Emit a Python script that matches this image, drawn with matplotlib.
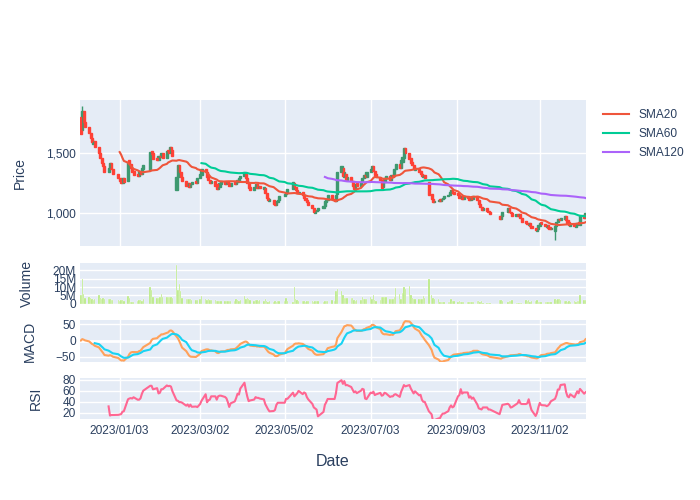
import numpy as np
import pandas as pd
import matplotlib
matplotlib.use('Agg')
import matplotlib.pyplot as plt
from matplotlib.lines import Line2D

plt.rcParams['font.family'] = ['Liberation Sans', 'DejaVu Sans']

# KRX trading days, 2022-12-06 .. 2023-12-05
krx_holidays = ['2022-12-30', '2023-01-23', '2023-01-24', '2023-03-01', '2023-05-01',
                '2023-05-05', '2023-05-29', '2023-06-06', '2023-08-15', '2023-09-28',
                '2023-09-29', '2023-10-02', '2023-10-03', '2023-10-09']
dates = pd.bdate_range('2022-12-06', '2023-12-05', freq='C', holidays=krx_holidays)

open_ = [
    1800, 1690, 1850, 1760, 1720, 1670, 1630, 1580, 1600, 1550, 1500, 1460, 1420, 1390, 1340, 1380, 1420, 1370,  # Dec
    1330, 1290, 1280, 1250, 1290, 1270, 1440, 1410, 1380, 1350, 1330, 1310, 1350, 1330, 1370, 1360, 1520, 1500, 1460, 1440,  # Jan
    1480, 1470, 1500, 1460, 1530, 1500, 1550, 1530, 1190, 1300, 1400, 1340, 1300, 1270, 1230, 1250, 1220, 1240, 1270, 1250,  # Feb
    1290, 1320, 1370, 1340, 1310, 1280, 1250, 1270, 1240, 1200, 1220, 1240, 1270, 1240, 1270, 1250, 1230, 1260, 1240, 1260, 1270, 1290,  # Mar
    1310, 1330, 1290, 1250, 1220, 1190, 1220, 1240, 1210, 1230, 1200, 1210, 1170, 1130, 1100, 1110, 1090, 1070, 1090, 1110,  # Apr
    1140, 1160, 1180, 1200, 1250, 1220, 1190, 1170, 1180, 1150, 1130, 1110, 1090, 1070, 1040, 1000, 1020, 1030, 1040, 1060,  # May
    1090, 1110, 1150, 1120, 1100, 1160, 1340, 1380, 1300, 1330, 1280, 1300, 1270, 1230, 1210, 1250, 1230, 1260, 1290, 1320, 1300,  # Jun
    1340, 1360, 1390, 1350, 1330, 1300, 1280, 1220, 1260, 1290, 1310, 1280, 1320, 1310, 1370, 1410, 1380, 1430, 1460, 1540, 1500,  # Jul
    1460, 1430, 1400, 1360, 1370, 1350, 1330, 1300, 1320, 1260, 1160, 1120, 1090, 1100, 1120, 1100, 1120, 1130, 1140, 1150, 1170, 1190,  # Aug
    1175, 1165, 1150, 1130, 1140, 1120, 1145, 1130, 1110, 1130, 1120, 1140, 1110, 1080, 1050, 1030, 1040, 1020, 1010,  # Sep
    980, 950, 980, 1010, 1040, 1010, 1000, 975, 990, 975, 990, 960, 935, 920, 905, 915, 895, 880, 855,  # Oct
    870, 895, 925, 910, 885, 900, 885, 870, 850, 890, 925, 955, 940, 950, 975, 945, 925, 895, 910, 885, 900, 925,  # Nov
    905, 985, 960,  # Dec
]
close = [
    1660, 1850, 1760, 1720, 1670, 1630, 1590, 1600, 1550, 1500, 1460, 1420, 1390, 1340, 1380, 1420, 1370, 1330,
    1290, 1270, 1250, 1290, 1260, 1430, 1410, 1380, 1340, 1320, 1310, 1350, 1330, 1380, 1400, 1510, 1490, 1450, 1440, 1480,
    1470, 1500, 1460, 1520, 1500, 1550, 1520, 1480, 1300, 1400, 1340, 1300, 1270, 1230, 1250, 1220, 1240, 1260, 1250, 1290,
    1330, 1370, 1340, 1300, 1280, 1250, 1270, 1230, 1200, 1220, 1250, 1270, 1240, 1260, 1250, 1230, 1250, 1240, 1260, 1280, 1290, 1310,
    1340, 1290, 1250, 1210, 1190, 1220, 1240, 1210, 1230, 1210, 1220, 1170, 1130, 1110, 1120, 1080, 1070, 1100, 1110, 1140,
    1160, 1180, 1200, 1260, 1220, 1190, 1170, 1180, 1150, 1130, 1110, 1090, 1070, 1040, 1010, 1020, 1030, 1040, 1060, 1100,
    1110, 1150, 1120, 1100, 1150, 1340, 1390, 1310, 1340, 1280, 1300, 1270, 1230, 1200, 1240, 1230, 1260, 1290, 1320, 1300, 1340,
    1370, 1390, 1350, 1320, 1300, 1280, 1210, 1260, 1290, 1310, 1280, 1320, 1300, 1370, 1410, 1380, 1440, 1470, 1540, 1500, 1450,
    1420, 1400, 1370, 1380, 1340, 1330, 1310, 1320, 1290, 1150, 1120, 1090, 1100, 1110, 1100, 1120, 1130, 1140, 1150, 1180, 1190, 1170,
    1160, 1150, 1130, 1140, 1120, 1140, 1130, 1110, 1130, 1120, 1140, 1110, 1080, 1050, 1030, 1040, 1020, 1010, 990,
    950, 980, 1010, 1040, 1010, 1000, 980, 990, 975, 990, 960, 930, 920, 910, 920, 890, 880, 860, 870,
    900, 920, 910, 890, 900, 880, 870, 880, 890, 930, 950, 940, 960, 980, 940, 920, 900, 910, 890, 900, 920, 910,
    980, 960, 1000,
]
# volume in millions of shares
volume_m = [
    5.5, 15.0, 6.0, 3.7, 3.8, 3.6, 2.8, 2.5, 3.0, 5.0, 3.2, 3.0, 3.4, 2.8, 3.1, 2.6, 2.2, 2.0,
    2.2, 1.8, 2.0, 2.3, 1.9, 4.7, 3.5, 1.3, 1.2, 1.0, 1.4, 2.0, 2.2, 1.8, 3.0, 10.0, 8.0, 3.8, 3.5, 3.2,
    4.0, 6.0, 4.2, 3.8, 4.1, 4.3, 3.9, 3.5, 23.5, 8.0, 11.6, 7.5, 3.2, 3.0, 2.8, 3.1, 2.6, 2.4, 2.5, 2.3,
    2.6, 4.7, 2.8, 2.4, 2.6, 2.3, 2.5, 2.2, 1.8, 1.6, 1.7, 1.9, 1.5, 1.8, 1.7, 1.6, 1.9, 1.5, 2.6, 2.0, 1.9, 2.1,
    4.7, 3.0, 3.2, 2.8, 2.1, 1.9, 2.2, 2.0, 1.8, 2.1, 1.9, 3.0, 1.4, 1.3, 1.5, 1.2, 1.4, 1.3, 1.5, 1.4,
    1.5, 3.5, 1.4, 1.3, 10.0, 3.0, 2.0, 1.5, 1.4, 1.6, 1.3, 1.7, 1.5, 1.4, 1.2, 1.6, 1.5, 1.4, 1.3, 1.6,
    1.5, 1.7, 2.0, 1.6, 7.8, 8.8, 7.5, 5.0, 3.5, 3.2, 3.6, 3.5, 3.3, 2.0, 1.9, 2.1, 2.0, 4.0, 3.0, 2.8, 3.1,
    4.0, 2.6, 5.5, 2.0, 1.8, 2.2, 4.0, 4.2, 3.8, 4.1, 3.0, 2.8, 3.1, 4.0, 9.6, 6.0, 3.0, 6.7, 10.0, 9.0, 10.8,
    5.5, 3.2, 3.0, 2.9, 3.1, 2.8, 3.0, 4.7, 3.5, 14.7, 5.5, 3.2, 3.0, 2.8, 1.2, 1.3, 1.1, 1.2, 1.3, 1.2, 2.6, 1.4,
    1.4, 1.3, 1.5, 1.2, 1.0, 1.1, 0.9, 1.0, 1.1, 0.9, 1.0, 1.4, 1.5, 1.3, 1.4, 0.6, 0.5, 0.6, 0.7,
    2.4, 2.5, 1.4, 1.3, 1.5, 1.4, 2.4, 0.6, 0.5, 0.7, 0.6, 0.6, 2.0, 1.8, 2.1, 1.0, 1.6, 1.5, 2.0,
    1.0, 1.1, 0.9, 1.0, 1.2, 0.9, 1.0, 1.1, 2.6, 2.5, 2.7, 2.6, 2.4, 1.4, 1.5, 1.3, 1.4, 1.2, 1.5, 1.3, 1.4, 1.6,
    5.0, 2.4, 2.3,
]
# the few candles with a visible wick beyond the body
wick_dates = ['2022-12-07', '2023-11-13']
wick_high = [1890, 890]
wick_low = [1690, 780]

tick_dates = ['2023-01-03', '2023-03-02', '2023-05-02', '2023-07-03', '2023-09-03', '2023-11-02']

df = pd.DataFrame({'open': open_, 'close': close,
                   'volume': np.array(volume_m) * 1e6}, index=dates)
df['high'] = df[['open', 'close']].max(axis=1)
df['low'] = df[['open', 'close']].min(axis=1)
for d, h, l in zip(wick_dates, wick_high, wick_low):
    df.loc[d, 'high'] = h
    df.loc[d, 'low'] = l

df['sma20'] = df['close'].rolling(20).mean()
df['sma60'] = df['close'].rolling(60).mean()
df['sma120'] = df['close'].rolling(120).mean()
ema12 = df['close'].ewm(span=12).mean()
ema26 = df['close'].ewm(span=26).mean()
df['macd'] = ema12 - ema26
df['signal'] = df['macd'].ewm(span=9, min_periods=9).mean()
delta = df['close'].diff()
gain = delta.clip(lower=0).rolling(14).mean()
loss = (-delta.clip(upper=0)).rolling(14).mean()
df['rsi'] = 100 - 100 / (1 + gain / loss)

# plotly-like styling
BG = '#E5ECF6'
TXT = '#2a3f5f'
fig = plt.figure(figsize=(7, 5), dpi=100)


def panel(top, bottom, sharex=None):
    ax = fig.add_axes([80 / 700, 1 - bottom / 500, 506 / 700, (bottom - top) / 500], sharex=sharex)
    ax.set_facecolor(BG)
    for s in ax.spines.values():
        s.set_visible(False)
    ax.grid(True, color='white', linewidth=1)
    ax.set_axisbelow(True)
    ax.tick_params(length=0, labelsize=8.6, labelcolor=TXT, pad=3)
    return ax


ax_p = panel(100, 245.7)
ax_v = panel(262.5, 303.8, ax_p)
ax_m = panel(320, 362, ax_p)
ax_r = panel(377.7, 419.3, ax_p)

# candlesticks
up = df['close'] >= df['open']
for mask, col in [(up, '#3D9970'), (~up, '#FF4136')]:
    sub = df[mask]
    ax_p.vlines(sub.index, sub['low'], sub['high'], color=col, linewidth=1)
    ax_p.bar(sub.index, (sub['close'] - sub['open']).abs().clip(lower=5),
             bottom=sub[['open', 'close']].min(axis=1), width=1.5,
             color=col, edgecolor=col, linewidth=1.0)
ax_p.plot(df.index, df['sma20'], color='#EF553B', linewidth=1.5)
ax_p.plot(df.index, df['sma60'], color='#00CC96', linewidth=1.5)
ax_p.plot(df.index, df['sma120'], color='#AB63FA', linewidth=1.5)
ax_p.set_ylim(730, 1944)
ax_p.set_yticks([1000, 1500])
ax_p.set_yticklabels(['1,000', '1,500'])

ax_v.bar(df.index, df['volume'], width=1.0, color='#B6E880', edgecolor='white', linewidth=0.2)
ax_v.set_ylim(0, 24.7e6)
ax_v.set_yticks([0, 5e6, 10e6, 15e6, 20e6])
ax_v.set_yticklabels(['0', '5M', '10M', '15M', '20M'])
ax_v.xaxis.grid(False)

ax_m.axhline(0, color='white', linewidth=2, zorder=0.5)
ax_m.plot(df.index, df['macd'], color='#FFA15A', linewidth=1.5)
ax_m.plot(df.index, df['signal'], color='#19D3F3', linewidth=1.5)
ax_m.set_ylim(-66, 63)
ax_m.set_yticks([-50, 0, 50])

ax_r.plot(df.index, df['rsi'], color='#FF6692', linewidth=1.5)
ax_r.set_ylim(7.9, 84.2)
ax_r.set_yticks([20, 40, 60, 80])

ticks = pd.to_datetime(tick_dates)
ax_r.set_xticks(ticks)
ax_r.set_xticklabels([t.strftime('%Y/%m/%d') for t in ticks])
ax_r.set_xlim(dates[0] - pd.Timedelta(hours=15), dates[-1] + pd.Timedelta(hours=8))
for ax in (ax_p, ax_v, ax_m):
    ax.tick_params(axis='x', labelbottom=False)
ax_r.tick_params(axis='x', pad=4)
ax_r.set_xlabel('Date', fontsize=11.5, color=TXT, labelpad=12)

for ax, name, xpos in [(ax_p, 'Price', -0.105), (ax_v, 'Volume', -0.091),
                       (ax_m, 'MACD', -0.085), (ax_r, 'RSI', -0.073)]:
    ax.set_ylabel(name, fontsize=10.1, color=TXT)
    ax.yaxis.set_label_coords(xpos, 0.5)

handles = [Line2D([], [], color=c, linewidth=1.5) for c in ('#EF553B', '#00CC96', '#AB63FA')]
fig.legend(handles, ['SMA20', 'SMA60', 'SMA120'], loc='upper left',
           bbox_to_anchor=(598 / 700, 1 - 104 / 500), frameon=False, fontsize=8.6,
           handlelength=2.2, labelcolor=TXT, borderaxespad=0, labelspacing=0.6)

fig.savefig('out.png', dpi=100)
